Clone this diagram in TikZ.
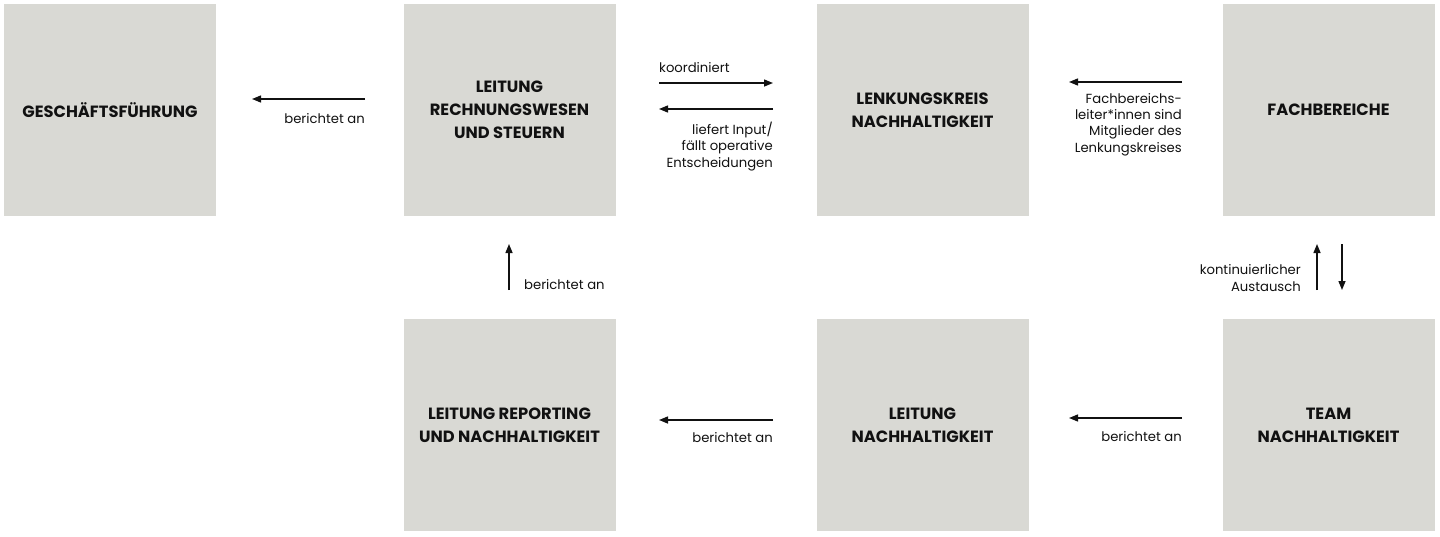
\documentclass[tikz,border=0pt]{standalone}
\usepackage{fontspec}
\setmainfont{Poppins}
\usetikzlibrary{arrows.meta}
\definecolor{boxgray}{RGB}{217,217,212}
\definecolor{ink}{RGB}{17,17,17}
\begin{document}
\begin{tikzpicture}[x=1pt,y=-1pt,
  box/.style={fill=boxgray,draw=none,minimum width=212pt,minimum height=212pt,inner sep=0pt,
    align=center,text=ink,font=\fontsize{16.3}{23}\selectfont\bfseries},
  arr/.style={draw=ink,line width=1.4pt,-{Triangle[length=9pt,width=7pt]}},
  lab/.style={text=ink,font=\fontsize{13.2}{16.3}\selectfont,inner sep=0pt}]
\useasboundingbox (0,0) rectangle (1440,536);
\node[box] (b1) at (110,110) {GESCHÄFTSFÜHRUNG};
\node[box] (b2) at (509.5,110) {LEITUNG\\RECHNUNGSWESEN\\UND STEUERN};
\node[box] (b3) at (922.5,110) {LENKUNGSKREIS\\NACHHALTIGKEIT};
\node[box] (b4) at (1328.5,110) {FACHBEREICHE};
\node[box] (b5) at (509.5,425) {LEITUNG REPORTING\\UND NACHHALTIGKEIT};
\node[box] (b6) at (922.5,425) {LEITUNG\\NACHHALTIGKEIT};
\node[box] (b7) at (1328.5,425) {TEAM\\NACHHALTIGKEIT};
% arrow end coordinates
\coordinate (a1s) at (365,99);  \coordinate (a1e) at (252,99);
\coordinate (a2s) at (659,83);  \coordinate (a2e) at (773,83);
\coordinate (a3s) at (773,109); \coordinate (a3e) at (659,109);
\coordinate (a4s) at (1182,82); \coordinate (a4e) at (1069,82);
\coordinate (a5s) at (1317,290); \coordinate (a5e) at (1317,244);
\coordinate (a6s) at (1342,244); \coordinate (a6e) at (1342,290);
\coordinate (a7s) at (509,290); \coordinate (a7e) at (509,244);
\coordinate (a8s) at (773,420); \coordinate (a8e) at (659,420);
\coordinate (a9s) at (1182,418); \coordinate (a9e) at (1069,418);
\draw[arr] (a1s) -- (a1e);
\draw[arr] (a2s) -- (a2e);
\draw[arr] (a3s) -- (a3e);
\draw[arr] (a4s) -- (a4e);
\draw[arr] (a5s) -- (a5e);
\draw[arr] (a6s) -- (a6e);
\draw[arr] (a7s) -- (a7e);
\draw[arr] (a8s) -- (a8e);
\draw[arr] (a9s) -- (a9e);
% labels
\node[lab,anchor=north east] (l1) at (365,113) {berichtet an};
\node[lab,anchor=south west] (l2) at (659,73) {koordiniert};
\node[lab,anchor=north east,align=right] (l3) at (773,122) {liefert Input/\\fällt operative\\Entscheidungen};
\node[lab,anchor=north east,align=right] (l4) at (1182,93) {Fachbereichs-\\leiter*innen sind\\Mitglieder des\\Lenkungskreises};
\node[lab,anchor=east,align=right] (l5) at (1301,278) {kontinuierlicher\\Austausch};
\node[lab,anchor=west] (l7) at (524,285) {berichtet an};
\node[lab,anchor=north east] (l8) at (773,432) {berichtet an};
\node[lab,anchor=north east] (l9) at (1182,431) {berichtet an};
\end{tikzpicture}
\end{document}
